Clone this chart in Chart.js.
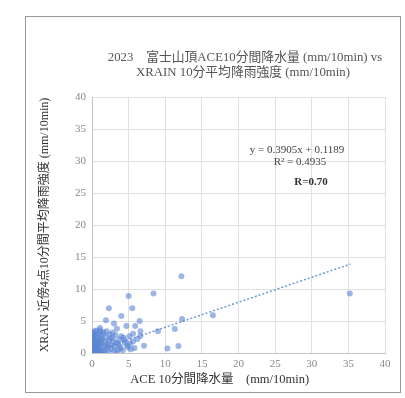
<!DOCTYPE html>
<html>
<head>
<meta charset="utf-8">
<script src="https://cdn.jsdelivr.net/npm/chart.js@4/dist/chart.umd.min.js"></script>
<style>
html,body{margin:0;padding:0;background:#fff;}
#wrap{position:relative;width:405px;height:398px;}
</style>
</head>
<body>
<div id="wrap"><canvas id="c" width="405" height="398"></canvas></div>
<script>
// ---- data ----
const titleLines = ["2023\u3000富士山頂ACE10分間降水量 (mm/10min) vs", "XRAIN 10分平均降雨強度 (mm/10min)"];
const xTitle = "ACE 10分間降水量\u3000(mm/10min)\u3000\u3000\u3000";
const yTitle = "XRAIN 近傍4点10分間平均降雨強度 (mm/10min)";
const annoLines = ["y = 0.3905x + 0.1189", "R² = 0.4935", "R=0.70"];
const xTicks = [0, 5, 10, 15, 20, 25, 30, 35, 40];
const yTicks = [0, 5, 10, 15, 20, 25, 30, 35, 40];
const trendCoef = [0.3905, 0.1189];   // slope, intercept
const trendX = [0, 35.3];

const aceX = [
 12.2,5.0,8.4,35.2,5.5,2.3,4.0,16.5,12.3,1.9,6.5,5.9,4.7,3.4,11.3,9.0,6.6,6.6,7.1,10.3,11.8,5.3,4.4,4.0,3.0,1.1,2.8,3.6,4.8,6.2,2.5,3.2,5.6,
 0,0.05,0.1,0.1,0.2,0.3,0,0.1,0.2,0.3,0.1,0.2,0.4,0.6,0.0,0.4,0.5,0.3,0.5,0.6,
 0.7,0.8,0.9,1.0,1.1,0.8,1.0,1.2,1.3,1.4,0.7,1.2,1.5,0.9,1.1,1.4,0.6,1.3,
 1.6,1.7,1.8,1.9,2.0,2.1,2.2,2.3,2.4,1.6,2.0,1.8,2.2,
 2.6,2.7,2.9,3.0,3.1,3.3,3.5,3.7,3.8,2.8,3.4,3.9,
 4.2,4.5,4.9,5.2,5.8,4.3,5.1,5.6,
 0.0,0.1,0.2,0.3,0.0,0.4,0.2,0.5,0.0,0.1,0.7,0.8,0.9,1.0,0.6,1.2,0.3
];
const xrainY = [
 12.0,8.9,9.3,9.3,7.0,7.0,5.8,5.9,5.3,5.1,5.0,4.2,4.2,3.8,3.75,3.4,3.4,2.65,1.15,0.7,1.1,0.6,2.0,2.6,4.6,3.9,3.2,1.5,1.2,2.2,2.3,2.8,1.8,
 0,0.1,0,0.3,0.5,0.2,0.8,1.2,1.6,2.1,2.5,3.0,3.4,3.5,1.9,0.9,1.4,2.8,0.3,0.6,
 1.0,1.8,2.4,3.1,3.5,0.2,0.5,0.9,1.5,2.2,2.9,2.7,3.3,0.0,1.3,0.3,1.5,2.0,
 0.4,1.1,1.7,2.5,0.8,1.4,0.2,1.9,2.9,3.0,3.4,0.0,1.0,
 0.6,1.2,1.8,0.3,1.0,1.6,0.5,2.1,1.0,2.4,0.0,0.7,
 0.4,1.6,0.9,1.5,0.8,2.4,2.6,3.0,
 0.4,0.7,0.0,1.1,1.4,1.8,2.2,2.4,2.8,3.3,0.1,0.7,1.4,2.0,0.3,0.1,0.6
];

const points = aceX.map((x, i) => ({x: x, y: xrainY[i]}));
const trendPts = trendX.map(x => ({x: x, y: trendCoef[0] * x + trendCoef[1]}));

const serif = "'Liberation Serif', 'Noto Sans CJK JP', serif";

const framePlugin = {
  id: 'frame',
  beforeDraw(chart) {
    const ctx = chart.ctx;
    ctx.save();
    ctx.fillStyle = '#fff';
    ctx.fillRect(0, 0, chart.width, chart.height);
    ctx.strokeStyle = '#9a9a9a';
    ctx.lineWidth = 1;
    ctx.strokeRect(25.5, 16.5, 375, 376);
    ctx.restore();
  },
  afterDraw(chart) {
    const ctx = chart.ctx;
    ctx.save();
    ctx.textAlign = 'center';
    ctx.textBaseline = 'middle';
    ctx.fillStyle = '#555';
    ctx.font = "12.8px " + serif;
    ctx.fillText(titleLines[0], 245, 58);
    ctx.fillText(titleLines[1], 243, 73);
    ctx.fillStyle = '#444';
    ctx.font = "11px " + serif;
    ctx.fillText(annoLines[0], 297, 150);
    ctx.fillText(annoLines[1], 300, 162);
    ctx.font = "bold 11px " + serif;
    ctx.fillStyle = '#333';
    ctx.fillText(annoLines[2], 311, 182);
    ctx.restore();
  }
};

new Chart(document.getElementById('c'), {
  type: 'scatter',
  data: {
    datasets: [
      {
        label: 'data',
        data: points,
        pointRadius: 3,
        pointHoverRadius: 3,
        pointBackgroundColor: 'rgba(92,134,212,0.6)',
        pointBorderColor: 'rgba(92,134,212,0.6)',
        pointBorderWidth: 0
      },
      {
        type: 'line',
        label: 'trend',
        data: trendPts,
        borderColor: '#6f97dc',
        borderWidth: 1.5,
        borderDash: [2, 2],
        pointRadius: 0,
        fill: false
      }
    ]
  },
  options: {
    responsive: false,
    animation: false,
    layout: {padding: {left: 30, right: 20, top: 97, bottom: 10}},
    plugins: {legend: {display: false}, tooltip: {enabled: false}, title: {display: false}},
    scales: {
      x: {
        type: 'linear', min: 0, max: 40,
        afterBuildTicks(s) { s.ticks = xTicks.map(v => ({value: v})); },
        afterFit(s) { s.height = 35; },
        grid: {color: '#e0e0e0', borderDash: [2, 4], drawTicks: false},
        border: {display: true, color: '#c4c4c4'},
        ticks: {color: '#888', font: {family: serif, size: 11}, padding: 5},
        title: {display: true, text: xTitle, color: '#333', font: {family: serif, size: 12.5, weight: 'normal'}, padding: {top: 0, bottom: 1}}
      },
      y: {
        type: 'linear', min: 0, max: 40,
        afterBuildTicks(s) { s.ticks = yTicks.map(v => ({value: v})); },
        afterFit(s) { s.width = 62; },
        grid: {color: '#e0e0e0', borderDash: [2, 4], drawTicks: false},
        border: {display: true, color: '#c4c4c4'},
        ticks: {color: '#888', font: {family: serif, size: 11}, padding: 6},
        title: {display: true, text: yTitle, color: '#333', font: {family: serif, size: 12, weight: 'normal'}, padding: {top: 8, bottom: 0}}
      }
    }
  },
  plugins: [framePlugin]
});
</script>
</body>
</html>
